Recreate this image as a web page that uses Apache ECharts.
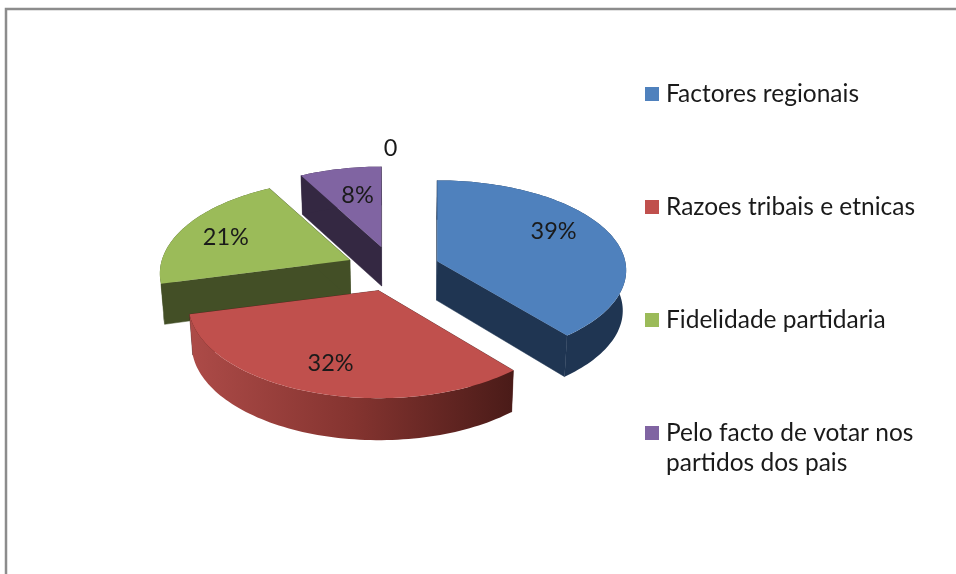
<!DOCTYPE html>
<html>
<head>
<meta charset="utf-8">
<style>html,body{margin:0;padding:0;background:#fff}#c{width:956px;height:574px}</style>
<script src="https://cdn.jsdelivr.net/npm/echarts@6/dist/echarts.min.js"></script>
</head>
<body>
<div id="c"></div>
<script>
// ---- data ----
var categories = ['Factores regionais', 'Razoes tribais e etnicas', 'Fidelidade partidaria', 'Pelo facto de votar nos\npartidos dos pais'];
var values = [39, 32, 21, 8];
var sliceLabels = ['39%', '32%', '21%', '8%'];
var extraValue = 0;
var extraLabel = '0';

// ---- look ----
var topColors = ['#4F81BD', '#C0504D', '#9BBB59', '#8064A2'];
var sideColors = ['#1F3552', '#8A3532', '#434F26', '#342842'];
var drawOrder = [3, 4, 2, 1];
var FONT = 'Lato';

// ---- projection of the tilted, exploded pie ----
var C = [393, 269], EX = [47, 22.7], RX = 188;
var RY = [89, 92, 92, 92], K = [0.10, 0.145, 0.145, 0.145];
var LABEL_POS = [[0.68, 1.03], [0.71, 0.72], [0.76, 0.66], [0.58, 0.66]];
var total = values.reduce(function (a, b) { return a + b; }, 0) + extraValue;
function rad(f) { return f * 2 * Math.PI; }
function persp(t, i) { return 1 / (1 + K[i] * Math.cos(t)); }
function topPt(a, t, i) { var p = persp(t, i); return [a[0] + RX * Math.sin(t) * p, a[1] - RY[i] * Math.cos(t) * p]; }
function down(pt, t, i) {
  var d = 39 + (persp(t, i) - 0.887) * 10.6;
  return [400 + (pt[0] - 400) * 0.985, pt[1] + d];
}

function sliceRender(i) {
  var before = 0; for (var j = 0; j < i; j++) before += values[j];
  return function (params, api) {
    var v = api.value(0);
    var t0 = rad(before / total), t1 = rad((before + v) / total), m = (t0 + t1) / 2;
    var a = [C[0] + EX[0] * Math.sin(m), C[1] - EX[1] * Math.cos(m)];
    var n = Math.max(2, Math.round((t1 - t0) / 0.025)), arcTop = [], arcBot = [];
    for (var s = 0; s <= n; s++) {
      var t = t0 + (t1 - t0) * s / n, q = topPt(a, t, i);
      arcTop.push(q); arcBot.push(down(q, t, i));
    }
    var side = sideColors[i];
    var sideFill = i === 1 ? { type: 'linear', x: 0, y: 0, x2: 1, y2: 0, colorStops: [
      { offset: 0, color: '#AD4B48' }, { offset: 0.5, color: '#853430' }, { offset: 1, color: '#4A1B18' }] } : side;
    var aBot = [400 + (a[0] - 400) * 0.985, a[1] + 39];
    var walls = [
      [a, arcTop[0], arcBot[0], aBot],
      [a, arcTop[n], arcBot[n], aBot]
    ];
    var kids = [];
    walls.forEach(function (w) {
      kids.push({ type: 'polygon', shape: { points: w }, style: { fill: i === 1 ? '#4A1B18' : side, stroke: i === 1 ? '#4A1B18' : side, lineWidth: 0.5 } });
    });
    kids.push({ type: 'polygon', shape: { points: arcTop.concat(arcBot.slice().reverse()) }, style: { fill: sideFill } });
    kids.push({ type: 'polygon', shape: { points: [a].concat(arcTop) }, style: { fill: topColors[i] } });
    var pm = persp(m, i), lp = LABEL_POS[i];
    kids.push({ type: 'text', style: {
      x: a[0] + RX * Math.sin(m) * pm * lp[0], y: a[1] - RY[i] * Math.cos(m) * pm * lp[1],
      text: sliceLabels[i], fill: '#1a1a1a', font: '23.5px ' + FONT, align: 'center', verticalAlign: 'middle' } });
    return { type: 'group', children: kids };
  };
}

var series = categories.map(function (name, i) {
  return {
    type: 'custom', name: name, coordinateSystem: 'none', z: drawOrder[i], silent: true, animation: false,
    itemStyle: { color: topColors[i] }, data: [[values[i]]], renderItem: sliceRender(i)
  };
});
// the zero-valued point keeps only its label, above the top of the pie
series.push({
  type: 'custom', name: 'zero', coordinateSystem: 'none', z: 6, silent: true, animation: false,
  data: [[extraValue]],
  renderItem: function () {
    return { type: 'text', style: { x: C[0] - 2.5, y: 148, text: extraLabel, fill: '#1a1a1a', font: '23.5px ' + FONT, align: 'center', verticalAlign: 'middle' } };
  }
});

var chart = echarts.init(document.getElementById('c'), null, { renderer: 'canvas' });
chart.setOption({
  backgroundColor: '#ffffff',
  animation: false,
  graphic: [{ type: 'rect', silent: true, shape: { x: 6, y: 9, width: 1100, height: 800 }, style: { fill: 'none', stroke: '#8c8c8c', lineWidth: 2.5 } }],
  legend: {
    data: categories, orient: 'vertical', left: 645, top: 49, padding: 0, itemGap: 23,
    itemWidth: 14, itemHeight: 14, icon: 'rect', selectedMode: false,
    formatter: function (n) { return n.indexOf('\n') >= 0 ? '\n' + n : '\n' + n + '\n'; },
    textStyle: { fontFamily: FONT, fontSize: 24.5, lineHeight: 30, color: '#1a1a1a', padding: [0, 0, 0, 2] }
  },
  series: series
});
</script>
</body>
</html>
